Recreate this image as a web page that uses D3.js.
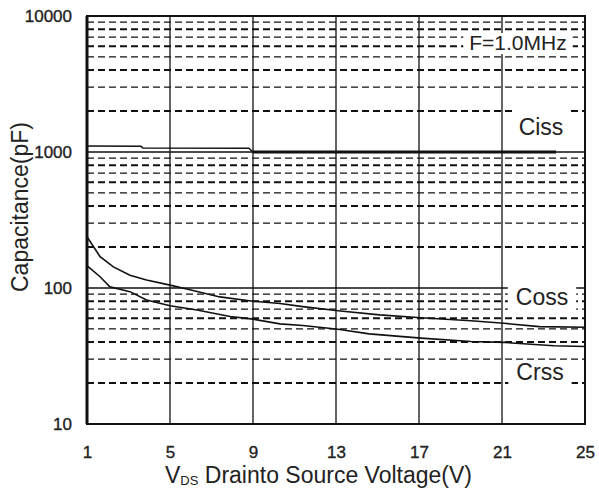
<!DOCTYPE html>
<html><head><meta charset="utf-8">
<script src="https://cdn.jsdelivr.net/npm/d3@7/dist/d3.min.js"></script>
<style>html,body{margin:0;padding:0;background:#fff;}svg{display:block;font-family:"Liberation Sans",Arial,sans-serif;}</style>
</head><body>
<script>
// ---- data ----
const xTicks = [1, 5, 9, 13, 17, 21, 25];
const yTicks = [10, 100, 1000, 10000];
const yTickLabels = ["10", "100", "1000", "10000"];
const minorLines = [20,30,40,50,60,70,80,90,200,300,400,500,600,700,800,900,2000,3000,4000,5000,6000,7000,8000,9000];

const cissV = [1, 3.6, 3.7, 8.8, 9, 23.6];
const cissC = [1105, 1100, 1070, 1065, 1000, 1000];

const cossV = [1, 1.63, 2.27, 3.07, 3.87, 5.0, 5.96, 7.4, 9.0, 10.3, 11.4, 13.1, 15.1, 17.1, 19.5, 21.1, 22.8, 25];
const cossC = [238, 170, 143, 124, 114.5, 105, 97, 86, 80, 77, 73, 68, 63.4, 60.5, 57.5, 55, 52, 51.5];

const crssV = [1, 1.63, 2.1, 3.07, 3.87, 5.0, 6.3, 7.9, 9.0, 10.3, 11.4, 13.1, 14.6, 17.1, 19.5, 21.1, 23.5, 25];
const crssC = [146, 121, 102, 94, 81.6, 74, 69, 61.7, 59, 54.5, 53, 49.8, 46, 42.8, 40.4, 39.8, 37.6, 37.1];

const seriesNames = ["Ciss", "Coss", "Crss"];
const noteText = "F=1.0MHz";

// ---- layout ----
const W = 599, H = 493;
const L = 87, R = 585, T = 16, B = 424;

const svg = d3.select("body").append("svg").attr("width", W).attr("height", H);
const x = d3.scaleLinear().domain([1, 25]).range([L, R]);
const y = d3.scaleLog().domain([10, 10000]).range([B, T]);

const g = svg.append("g");

// minor dashed grid
g.selectAll(".minor").data(minorLines).enter().append("line")
  .attr("x1", L).attr("x2", R)
  .attr("y1", d => y(d)).attr("y2", d => y(d))
  .attr("stroke", "#111")
  .attr("stroke-width", d => (String(d)[0] % 2 === 0) ? 2 : 1.2)
  .attr("stroke-dasharray", "7,4");

// decade solid lines
g.selectAll(".major").data([100, 1000]).enter().append("line")
  .attr("x1", L).attr("x2", R)
  .attr("y1", d => y(d)).attr("y2", d => y(d))
  .attr("stroke", "#111").attr("stroke-width", 1.3);

// vertical grid
g.selectAll(".vg").data(xTicks.slice(1, -1)).enter().append("line")
  .attr("x1", d => x(d)).attr("x2", d => x(d))
  .attr("y1", T).attr("y2", B)
  .attr("stroke", "#111").attr("stroke-width", 1.3);

// label boxes (white behind text)
const labelBoxes = svg.append("g");
const labels = svg.append("g").attr("fill", "#222");

function addLabel(txt, cx, baseY, size, padX, padTop, padBottom) {
  const t = labels.append("text").attr("x", cx).attr("y", baseY)
    .attr("text-anchor", "middle").attr("font-size", size).text(txt);
  const bb = t.node().getBBox();
  labelBoxes.append("rect").attr("x", bb.x - padX).attr("y", bb.y + 2 - padTop)
    .attr("width", bb.width + 2 * padX).attr("height", bb.height - 2 + padTop + padBottom)
    .attr("fill", "#fff");
}

// curves
const line = d3.line().x(d => x(d[0])).y(d => y(d[1]));
const ciss = d3.zip(cissV, cissC);
const coss = d3.zip(cossV, cossC);
const crss = d3.zip(crssV, crssC);
const curves = svg.append("g").attr("fill", "none").attr("stroke", "#111");
curves.append("path").attr("d", line(ciss)).attr("stroke-width", 1.5);
curves.append("path").attr("d", line(ciss.filter(d => d[0] >= 9))).attr("stroke-width", 3.2);
curves.append("path").attr("d", line(coss)).attr("stroke-width", 1.6);
curves.append("path").attr("d", line(crss)).attr("stroke-width", 1.6);

// series labels
addLabel(noteText, 518, 50, 21, 6, 0, 0);
addLabel(seriesNames[0], 541, 135, 23, 6, 6, 1);
addLabel(seriesNames[1], 542, 305, 23, 8, 0, 0);
addLabel(seriesNames[2], 540, 380, 23, 8, 0, 0);
labels.raise();

// frame
svg.append("rect").attr("x", L).attr("y", T).attr("width", R - L).attr("height", B - T)
  .attr("fill", "none").attr("stroke", "#111").attr("stroke-width", 2);
svg.append("line").attr("x1", L).attr("x2", L).attr("y1", T).attr("y2", B)
  .attr("stroke", "#111").attr("stroke-width", 3);

// axes tick labels via d3 axes (domain/ticks hidden)
const xAxis = d3.axisBottom(x).tickValues(xTicks).tickSize(0).tickPadding(0).tickFormat(d3.format("d"));
const xg = svg.append("g").attr("transform", `translate(0,${B + 34})`).call(xAxis);
xg.select(".domain").remove();
xg.selectAll("text").attr("font-size", 17).attr("dy", 0).attr("fill", "#222")
  .attr("stroke", "#222").attr("stroke-width", 0.35).attr("font-family", "Liberation Sans, Arial, sans-serif");

const yAxis = d3.axisLeft(y).tickValues(yTicks).tickSize(0).tickPadding(0)
  .tickFormat((d, i) => yTickLabels[i]);
const yg = svg.append("g").attr("transform", `translate(${L - 15},0)`).call(yAxis);
yg.select(".domain").remove();
yg.selectAll("text").attr("font-size", 17).attr("dy", "0.35em").attr("fill", "#222")
  .attr("stroke", "#222").attr("stroke-width", 0.35).attr("font-family", "Liberation Sans, Arial, sans-serif");

// axis titles
const xt = svg.append("text").attr("x", 165).attr("y", 483).attr("font-size", 23).attr("fill", "#222");
xt.append("tspan").text("V");
xt.append("tspan").attr("font-size", 13).attr("dy", 2).text("DS");
xt.append("tspan").attr("dy", -2).text(" Drainto Source Voltage(V)");

svg.append("text").attr("transform", "translate(28,207) rotate(-90)")
  .attr("text-anchor", "middle").attr("font-size", 23).attr("fill", "#222")
  .text("Capacitance(pF)");
</script>
</body></html>
